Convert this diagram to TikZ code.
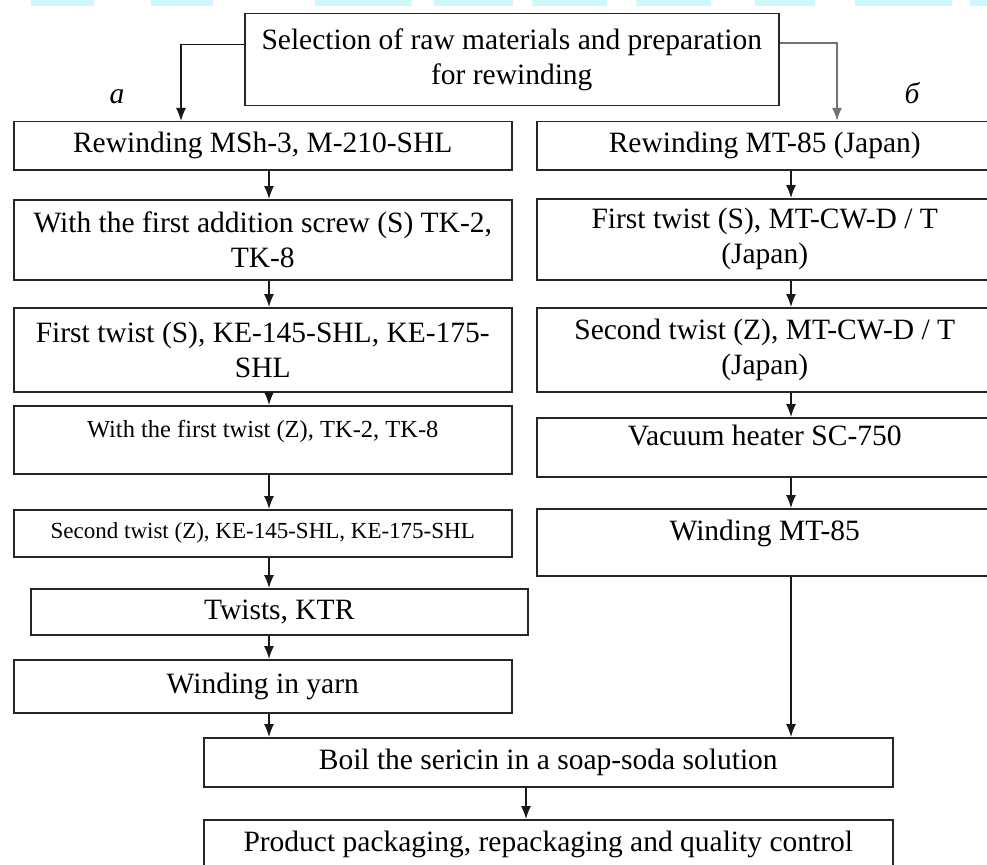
\documentclass[tikz,border=0pt]{standalone}
\usepackage{fontspec}
\setmainfont{Liberation Serif}
\usepackage{tikz}
\usetikzlibrary{arrows.meta}
\definecolor{barcyan}{RGB}{205,247,251}
\tikzstyle{stage}=[rectangle, draw=black!85, line width=1.5pt, inner sep=0pt,
anchor=north west, align=center, font=\fontsize{29.5}{35}\selectfont]
\tikzstyle{topline}=[text height=0pt, text depth=4pt]
\tikzstyle{flow}=[-{Latex[length=13pt,width=10pt]}, line width=1.3pt, black!90]
\tikzstyle{branch}=[font=\fontsize{29.5}{35}\selectfont\itshape, anchor=base]

\begin{document}
\begin{tikzpicture}[x=1pt,y=1pt]
\useasboundingbox (0,0) rectangle (987,-864);
\clip (0,0) rectangle (987,-864);
\fill[white] (0,0) rectangle (987,-864);
% strip along the top edge
\fill[barcyan] (31,0) rectangle (94,-6) (151,0) rectangle (213,-6)
  (315,0) rectangle (412,-6) (434,0) rectangle (513,-6)
  (532,0) rectangle (607,-6) (636,0) rectangle (711,-6)
  (755,0) rectangle (815,-6) (855,0) rectangle (952,-6) (970,0) rectangle (987,-6);
\coordinate (lx) at (269,0);
\coordinate (rx) at (791,0);
\coordinate (px) at (526,0);
\node[stage, minimum width=534pt, minimum height=92pt] (top) at (244,-13)
  {Selection of raw materials and preparation\\for rewinding};
\node[branch] (ba) at (117,-104) {a};
\node[branch] (bb) at (912,-104) {б};
% left line
\node[stage, minimum width=498pt, minimum height=48pt] (l1) at (13,-121) {Rewinding MSh-3, M-210-SHL};
\node[stage, minimum width=498pt, minimum height=80pt] (l2) at (13,-199) {With the first addition screw (S) TK-2,\\TK-8};
\node[stage, minimum width=498pt, minimum height=84pt] (l3) at (13,-307) {First twist (S), KE-145-SHL, KE-175-\\SHL};
\node[stage, topline, minimum width=498pt, minimum height=68pt, font=\fontsize{24.5}{30}\selectfont] (l4) at (13,-405) {With the first twist (Z), TK-2, TK-8};
\node[stage, minimum width=498pt, minimum height=47pt, font=\fontsize{23}{28}\selectfont] (l5) at (13,-509) {Second twist (Z), KE-145-SHL, KE-175-SHL};
\node[stage, minimum width=497pt, minimum height=46pt] (l6) at (30,-588) {Twists, KTR};
\node[stage, minimum width=498pt, minimum height=53pt] (l7) at (13,-659) {Winding in yarn};
% right line
\node[stage, minimum width=456pt, minimum height=48pt] (r1) at (536,-121) {Rewinding MT-85 (Japan)};
\node[stage, minimum width=456pt, minimum height=81pt] (r2) at (536,-198) {First twist (S), MT-CW-D / T\\(Japan)};
\node[stage, minimum width=456pt, minimum height=84pt] (r3) at (536,-307) {Second twist (Z), MT-CW-D / T\\(Japan)};
\node[stage, topline, minimum width=456pt, minimum height=59pt] (r4) at (536,-417) {Vacuum heater SC-750};
\node[stage, topline, minimum width=456pt, minimum height=67pt] (r5) at (536,-508) {Winding MT-85};
% common end
\node[stage, minimum width=689pt, minimum height=49pt] (boil) at (203,-737) {Boil the sericin in a soap-soda solution};
\node[stage, minimum width=689pt, minimum height=49pt] (pack) at (203,-819) {Product packaging, repackaging and quality control};
\draw[flow] ([yshift=15pt]top.west) -| ([xshift=168pt]l1.north west);
\draw[flow, black!55, line width=2pt] ([yshift=17pt]top.east) -| ([xshift=301pt]r1.north west);
\draw[flow] (l1.south -| lx) -- (l2.north -| lx);
\draw[flow] (l2.south -| lx) -- (l3.north -| lx);
\draw[flow] (l3.south -| lx) -- (l4.north -| lx);
\draw[flow] (l4.south -| lx) -- (l5.north -| lx);
\draw[flow] (l5.south -| lx) -- (l6.north -| lx);
\draw[flow] (l6.south -| lx) -- (l7.north -| lx);
\draw[flow] (l7.south -| lx) -- (boil.north -| lx);
\draw[flow] (r1.south -| rx) -- (r2.north -| rx);
\draw[flow] (r2.south -| rx) -- (r3.north -| rx);
\draw[flow] (r3.south -| rx) -- (r4.north -| rx);
\draw[flow] (r4.south -| rx) -- (r5.north -| rx);
\draw[flow] (r5.south -| rx) -- (boil.north -| rx);
\draw[flow] (boil.south -| px) -- (pack.north -| px);
\end{tikzpicture}
\end{document}
